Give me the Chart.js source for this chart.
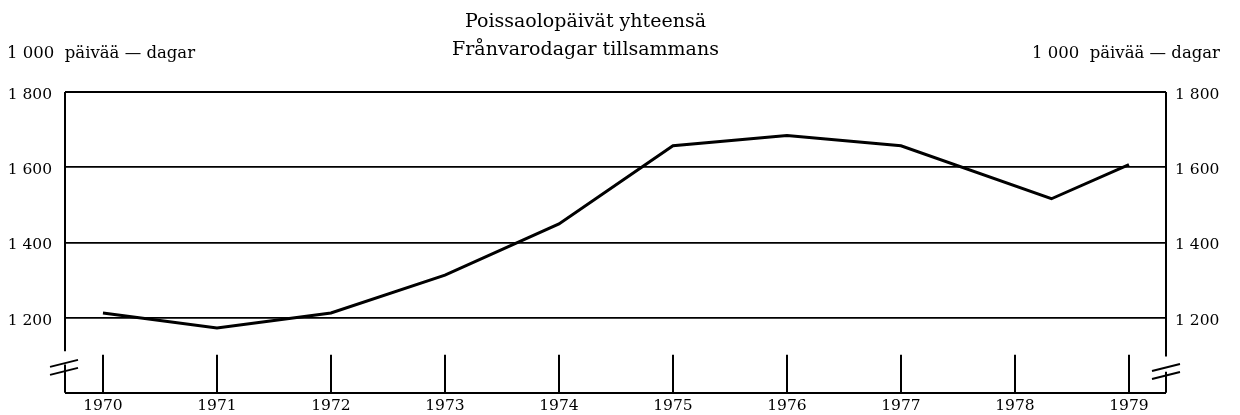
<!DOCTYPE html>
<html>
<head>
<meta charset="utf-8">
<script src="https://cdn.jsdelivr.net/npm/chart.js@4.4.0/dist/chart.umd.min.js"></script>
<style>
  html, body { margin: 0; padding: 0; background: #fff; }
  #wrap { width: 1240px; height: 415px; }
</style>
</head>
<body>
<div id="wrap"><canvas id="absenceChart" width="1240" height="415"></canvas></div>
<script>
// Poissaolopäivät yhteensä / Frånvarodagar tillsammans 1970-1979
var titleLines = ["Poissaolopäivät yhteensä", "Frånvarodagar tillsammans"];
var unitLabel = "1 000  päivää — dagar";
var years = [1970, 1971, 1972, 1973, 1974, 1975, 1976, 1977, 1978, 1979];
// position of each plotted point on the year axis (1978 point sits a bit late in the original)
var pointYears = [1970, 1971, 1972, 1973, 1974, 1975, 1976, 1977, 1978.32, 1979];
var absenceDays = [1212, 1172, 1212, 1313, 1449, 1657, 1684, 1657, 1516, 1607]; // 1 000 days
var yTicks = [1000, 1200, 1400, 1600, 1800];

var serif = '"DejaVu Serif", "Liberation Serif", serif';
var ink = "#000";

function spaced(v) {
  return String(v).replace(/\B(?=(\d{3})+(?!\d))/g, " ");
}

var points = pointYears.map(function (yr, i) {
  return { x: yr, y: absenceDays[i] };
});

// frame with axis breaks, inward year ticks, title and unit texts
var paperFrame = {
  id: "paperFrame",
  afterDraw: function (chart) {
    var ctx = chart.ctx;
    var area = chart.chartArea;
    var ys = chart.scales.y;
    var xs = chart.scales.x;
    var bottom = ys.getPixelForValue(yTicks[0]);
    var top = ys.getPixelForValue(yTicks[yTicks.length - 1]);

    ctx.save();
    ctx.strokeStyle = ink;
    ctx.lineCap = "butt";

    // left and right axis lines, broken near the bottom
    ctx.lineWidth = 2;
    ctx.beginPath();
    ctx.moveTo(area.left, top);
    ctx.lineTo(area.left, ys.getPixelForValue(1110));
    ctx.moveTo(area.left, ys.getPixelForValue(1075));
    ctx.lineTo(area.left, bottom);
    ctx.moveTo(area.right, top);
    ctx.lineTo(area.right, ys.getPixelForValue(1096));
    ctx.moveTo(area.right, ys.getPixelForValue(1056));
    ctx.lineTo(area.right, bottom);
    ctx.stroke();

    // break marks
    function breakMark(xc, yc) {
      ctx.lineWidth = 2;
      ctx.beginPath();
      for (var k = 0; k < 2; k++) {
        var y0 = yc + k * 8;
        ctx.moveTo(xc - 14, y0 + 3.5);
        ctx.lineTo(xc + 14, y0 - 3.5);
      }
      ctx.stroke();
    }
    breakMark(area.left - 1, ys.getPixelForValue(1078));
    breakMark(area.right, ys.getPixelForValue(1067));

    // year ticks standing up from the bottom axis
    ctx.lineWidth = 2;
    ctx.beginPath();
    xs.ticks.forEach(function (t) {
      var px = Math.round(xs.getPixelForValue(t.value));
      ctx.moveTo(px, bottom);
      ctx.lineTo(px, ys.getPixelForValue(1101));
    });
    ctx.stroke();

    // titles
    ctx.fillStyle = ink;
    ctx.font = "19px " + serif;
    ctx.textAlign = "center";
    ctx.textBaseline = "alphabetic";
    var cx = (area.left + area.right) / 2 - 30;
    ctx.fillText(titleLines[0], cx, 27);
    ctx.fillText(titleLines[1], cx, 55);

    // unit labels above both axes
    ctx.font = "16.5px " + serif;
    ctx.textAlign = "left";
    ctx.fillText(unitLabel, 7, 58);
    ctx.textAlign = "right";
    ctx.fillText(unitLabel, 1220, 58);
    ctx.restore();
  }
};

var tickFont = { family: serif, size: 15.5 };

new Chart(document.getElementById("absenceChart"), {
  type: "line",
  data: {
    datasets: [{
      data: points,
      borderColor: ink,
      borderWidth: 3,
      pointRadius: 0,
      tension: 0,
      fill: false,
      yAxisID: "y"
    }]
  },
  options: {
    responsive: false,
    animation: false,
    devicePixelRatio: 1,
    layout: { padding: { top: 92, left: 0, right: 0, bottom: 0 } },
    plugins: { legend: { display: false }, tooltip: { enabled: false } },
    scales: {
      x: {
        type: "linear",
        min: 1969.667,
        max: 1979.325,
        afterFit: function (s) { s.height = 22; },
        grid: { display: false, drawTicks: false },
        border: { display: false },
        ticks: {
          stepSize: 1,
          includeBounds: false,
          padding: 4,
          color: ink,
          font: tickFont,
          maxRotation: 0,
          callback: function (v) { return years.indexOf(v) >= 0 ? String(v) : ""; }
        }
      },
      y: {
        position: "left",
        min: yTicks[0],
        max: yTicks[yTicks.length - 1],
        afterFit: function (s) { s.width = 65; },
        afterBuildTicks: function (s) { s.ticks = yTicks.map(function (v) { return { value: v }; }); },
        grid: {
          drawTicks: false,
          color: ink,
          lineWidth: function (c) { return (c.tick && (c.tick.value === 1000 || c.tick.value === 1800)) ? 2 : 1.7; }
        },
        border: { display: false },
        ticks: {
          padding: 13,
          labelOffset: 3,
          color: ink,
          font: tickFont,
          callback: function (v) { return v === yTicks[0] ? "" : spaced(v); }
        }
      },
      y2: {
        position: "right",
        min: yTicks[0],
        max: yTicks[yTicks.length - 1],
        afterFit: function (s) { s.width = 74; },
        afterBuildTicks: function (s) { s.ticks = yTicks.map(function (v) { return { value: v }; }); },
        grid: { display: false, drawTicks: false },
        border: { display: false },
        ticks: {
          padding: 9,
          labelOffset: 3,
          color: ink,
          font: tickFont,
          callback: function (v) { return v === yTicks[0] ? "" : spaced(v); }
        }
      }
    }
  },
  plugins: [paperFrame]
});
</script>
</body>
</html>
